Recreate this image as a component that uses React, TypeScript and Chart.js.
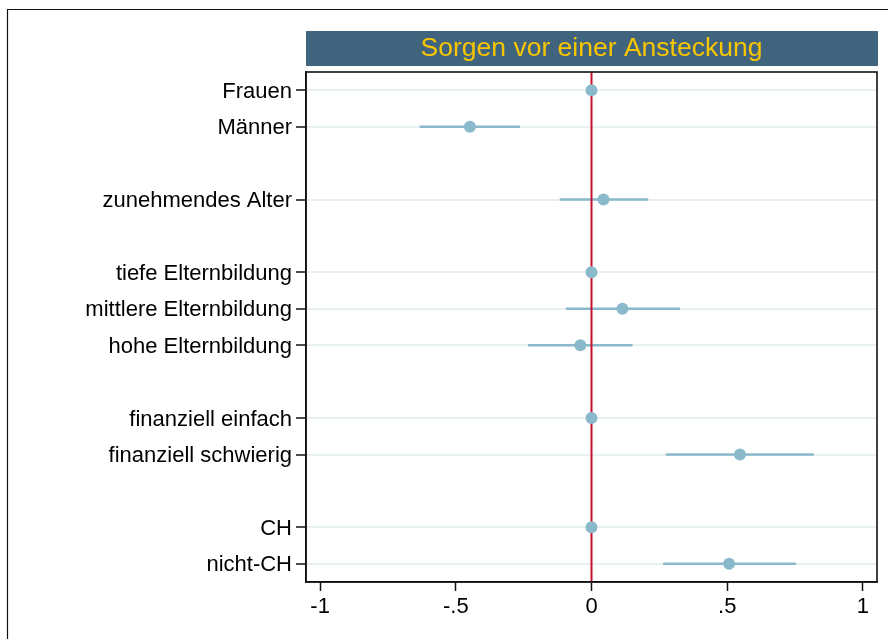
import React, { useEffect, useRef } from "react";
import { Chart, registerables } from "chart.js";

Chart.register(...registerables);

const TITLE = "Sorgen vor einer Ansteckung";
const rowLabels = [
  "Frauen",
  "Männer",
  "",
  "zunehmendes Alter",
  "",
  "tiefe Elternbildung",
  "mittlere Elternbildung",
  "hohe Elternbildung",
  "",
  "finanziell einfach",
  "finanziell schwierig",
  "",
  "CH",
  "nicht-CH",
];
const coef: (number | null)[] = [0, -0.448, null, 0.044, null, 0, 0.114, -0.041, null, 0, 0.547, null, 0, 0.507];
const ciLow: (number | null)[] = [null, -0.633, null, -0.117, null, null, -0.094, -0.234, null, null, 0.274, null, null, 0.264];
const ciHigh: (number | null)[] = [null, -0.264, null, 0.209, null, null, 0.326, 0.151, null, null, 0.82, null, null, 0.753];
const xTicks = [-1, -0.5, 0, 0.5, 1];

const FONT = "'Liberation Sans', Arial, Helvetica, sans-serif";
const POINT_COLOR = "#89b9ca";
const REF_COLOR = "#c8102e";
const GRID_COLOR = "#e8f0f2";

const fmtX = (v: number) => {
  if (v === 0) return "0";
  const s = String(Math.abs(v)).replace(/^0/, "");
  return (v < 0 ? "-" : "") + s;
};

const framePlugin = {
  id: "frameAndTitle",
  beforeDraw(chart: any) {
    const ctx = chart.ctx;
    ctx.save();
    ctx.fillStyle = "#ffffff";
    ctx.fillRect(0, 0, chart.width, chart.height);
    // outer frame
    ctx.strokeStyle = "#111";
    ctx.lineWidth = 1.2;
    ctx.beginPath();
    ctx.moveTo(7.5, chart.height);
    ctx.lineTo(7.5, 9.5);
    ctx.lineTo(chart.width, 9.5);
    ctx.stroke();
    // title bar
    const a = chart.chartArea;
    ctx.fillStyle = "#40637e";
    ctx.fillRect(a.left, 31, a.right - a.left + 1, 35);
    ctx.fillStyle = "#f7c600";
    ctx.font = `26.5px ${FONT}`;
    ctx.textAlign = "center";
    ctx.textBaseline = "middle";
    ctx.fillText(TITLE, (a.left + a.right) / 2, 48.5);
    ctx.restore();
  },
  afterDraw(chart: any) {
    const ctx = chart.ctx;
    const a = chart.chartArea;
    ctx.save();
    ctx.strokeStyle = "#111";
    ctx.lineWidth = 1.6;
    ctx.strokeRect(a.left, a.top, a.right - a.left, a.bottom - a.top);
    ctx.restore();
  },
};

export default function App() {
  const ref = useRef<HTMLCanvasElement | null>(null);

  useEffect(() => {
    if (!ref.current) return;
    const ciDatasets: any[] = [];
    rowLabels.forEach((_, i) => {
      const lo = ciLow[i];
      const hi = ciHigh[i];
      if (lo === null || hi === null) return;
      ciDatasets.push({
        type: "line",
        data: [
          { x: lo, y: i },
          { x: hi, y: i },
        ],
        borderColor: POINT_COLOR,
        borderWidth: 2.5,
        pointRadius: 0,
        fill: false,
        order: 3,
      });
    });
    const pointData = coef
      .map((c, i) => (c === null ? null : { x: c, y: i }))
      .filter((p) => p !== null);

    const chart = new Chart(ref.current, {
      type: "scatter",
      data: {
        datasets: [
          {
            type: "scatter",
            data: pointData as any,
            backgroundColor: POINT_COLOR,
            borderColor: POINT_COLOR,
            pointRadius: 6,
            pointBorderWidth: 0,
            order: 1,
          },
          {
            type: "line",
            data: [
              { x: 0, y: -0.5 },
              { x: 0, y: rowLabels.length - 0.5 },
            ],
            borderColor: REF_COLOR,
            borderWidth: 2,
            pointRadius: 0,
            fill: false,
            order: 2,
          },
          ...ciDatasets,
        ],
      },
      options: {
        animation: false,
        responsive: false,
        events: [],
        layout: { padding: { left: 0, top: 72, right: 11, bottom: 0 } },
        plugins: { legend: { display: false }, tooltip: { enabled: false }, title: { display: false } },
        scales: {
          x: {
            type: "linear",
            min: -1.052,
            max: 1.052,
            afterBuildTicks: (s: any) => {
              s.ticks = xTicks.map((v) => ({ value: v }));
            },
            afterFit: (s: any) => {
              s.height = 57;
            },
            grid: {
              drawOnChartArea: false,
              drawTicks: true,
              tickLength: 9,
              tickColor: "#111",
              tickWidth: 1.5,
            },
            border: { display: true, color: "#111", width: 1.6 },
            ticks: {
              color: "#000",
              font: { family: FONT, size: 22 },
              padding: 3,
              maxRotation: 0,
              autoSkip: false,
              callback: (v: any) => fmtX(Number(v)),
            },
          },
          y: {
            type: "linear",
            reverse: true,
            min: -0.5,
            max: rowLabels.length - 0.5,
            afterBuildTicks: (s: any) => {
              s.ticks = rowLabels
                .map((l, i) => ({ l, i }))
                .filter((o) => o.l !== "")
                .map((o) => ({ value: o.i }));
            },
            afterFit: (s: any) => {
              s.width = 306;
            },
            grid: {
              color: GRID_COLOR,
              lineWidth: 2,
              drawTicks: true,
              tickLength: 10,
              tickColor: "#111",
              tickWidth: 1.5,
            },
            border: { display: true, color: "#111", width: 1.6 },
            ticks: {
              color: "#000",
              font: { family: FONT, size: 22 },
              padding: 4,
              labelOffset: 1.5,
              autoSkip: false,
              callback: (v: any) => rowLabels[Number(v)] ?? "",
            },
          },
        },
      },
      plugins: [framePlugin],
    } as any);
    return () => chart.destroy();
  }, []);

  return (
    <div style={{ position: "absolute", left: 0, top: 0, width: 888, height: 639 }}>
      <canvas ref={ref} width={888} height={639} style={{ display: "block", width: 888, height: 639 }} />
    </div>
  );
}
